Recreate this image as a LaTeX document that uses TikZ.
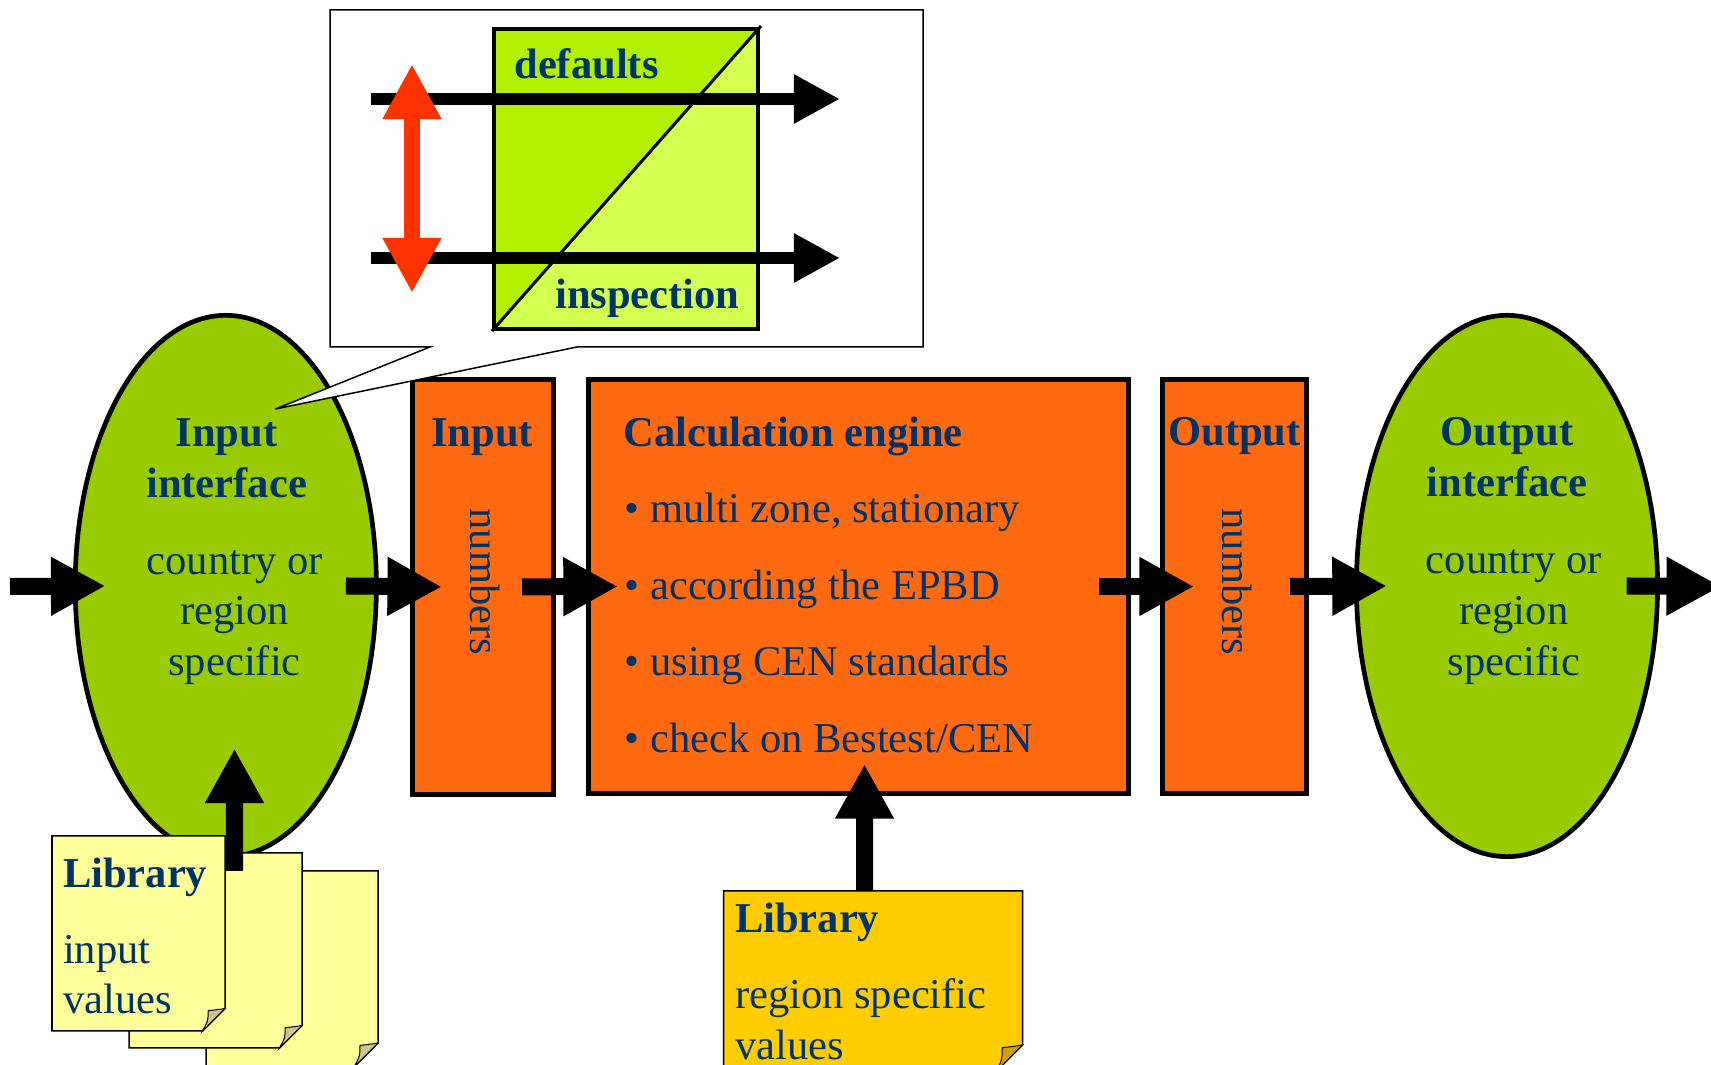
\documentclass[tikz,border=0pt]{standalone}
\usepackage{fontspec}
\setmainfont{Liberation Serif}
\usetikzlibrary{shapes.geometric,arrows.meta}
\definecolor{navy}{HTML}{003366}
\definecolor{ellgreen}{HTML}{99CC00}
\definecolor{boxorange}{HTML}{FF6A10}
\definecolor{darkgreen}{HTML}{B0F000}
\definecolor{lightgreen}{HTML}{D4FF50}
\definecolor{arrowred}{HTML}{FF3300}
\definecolor{pageyellow}{HTML}{FFFF99}
\definecolor{pagecurl}{HTML}{CCC488}
\definecolor{libgold}{HTML}{FFCC00}
\definecolor{goldcurl}{HTML}{D4A000}
\newcommand\txtfont{\fontsize{12.1pt}{14.5pt}\selectfont}
\newcommand\docpage[7]{%
  \pgfmathsetmacro\dpay{#4-#5}%
  \pgfmathsetmacro\dpbx{#3-#5}%
  \pgfmathsetmacro\dpcx{#3-0.3*#5}\pgfmathsetmacro\dpcy{#4-0.95*#5}%
  \pgfmathsetmacro\dppx{#3-0.75*#5}\pgfmathsetmacro\dppy{#4-0.9*#5}%
  \pgfmathsetmacro\dpdy{#4-0.45*#5}%
  \draw[page, fill=#6] (#1,#2) -- (#3,#2) -- (#3,\dpay) -- (\dpbx,#4) -- (#1,#4) -- cycle;
  \draw[curl, fill=#7] (#3,\dpay) .. controls (\dpcx,\dpcy) .. (\dppx,\dppy) .. controls (\dppx,\dpdy) .. (\dpbx,#4) -- cycle;
}
\begin{document}
\begin{tikzpicture}[x=0.01cm,y=-0.01cm,
  lbl/.style={inner sep=0pt, text=navy, font=\txtfont},
  blbl/.style={inner sep=0pt, text=navy, font=\txtfont\bfseries},
  iface/.style={ellipse, draw=black, line width=0.047cm, fill=ellgreen, inner sep=0pt, outer sep=0pt, minimum width=3.01cm, minimum height=5.41cm},
  obox/.style={rectangle, draw=black, line width=0.05cm, fill=boxorange, inner sep=0pt, outer sep=0pt},
  bigarrow/.style={line width=0.17cm, -{Triangle[length=0.545cm,width=0.55cm]}},
  smallarrow/.style={line width=0.12cm, -{Triangle[length=0.46cm,width=0.46cm]}},
  page/.style={draw=black, line width=0.015cm, line join=miter},
  curl/.style={draw=black, line width=0.01cm},
]
\useasboundingbox (0,0) rectangle (1711,1065);

% interfaces and boxes
\node[iface] (inif) at (225.8,586) {};
\node[iface] (outif) at (1507,586) {};
\node[obox, minimum width=1.41cm, minimum height=4.15cm] (inbox) at (482.6,586.9) {};
\node[obox, minimum width=5.40cm, minimum height=4.14cm] (calc) at (858.5,586.5) {};
\node[obox, minimum width=1.44cm, minimum height=4.14cm] (outbox) at (1234.5,586.5) {};

% callout
\draw[fill=white, draw=black, line width=0.015cm, line join=miter]
  (330,10) -- (923,10) -- (923,347) -- (577,347) -- (275.5,409) -- (430,347) -- (330,347) -- cycle;
\fill[darkgreen] (494,29) -- (758,29) -- (494,329) -- cycle;
\fill[lightgreen] (758,29) -- (758,329) -- (494,329) -- cycle;
\draw[line width=0.04cm] (494,29) rectangle (758,329);
\draw[line width=0.03cm] (492,331) -- (761,26);
\coordinate (da0) at (371,99);
\coordinate (da1) at (840,99);
\coordinate (ia0) at (371,258);
\coordinate (ia1) at (840,258);
\draw[smallarrow] (da0) -- (da1);
\draw[smallarrow] (ia0) -- (ia1);
\coordinate (r0) at (412,64);
\coordinate (r1) at (412,293);
\draw[arrowred, line width=0.16cm, {Triangle[length=0.55cm,width=0.55cm]}-{Triangle[length=0.55cm,width=0.55cm]}] (r0) -- (r1);
\node[blbl, anchor=base west] (defaults) at (513.7,78.3) {defaults};
\node[blbl, anchor=base west] (inspection) at (554.5,308.3) {inspection};

% library pages
\docpage{206}{871}{378}{1067}{24}{pageyellow}{pagecurl}
\docpage{129}{853}{302}{1048}{22.5}{pageyellow}{pagecurl}
\docpage{52}{836}{225}{1031}{22.5}{pageyellow}{pagecurl}
\docpage{723.5}{891}{1022.5}{1072}{27}{libgold}{goldcurl}
\node[blbl, anchor=base west] (lib1t) at (62.3,887.3) {Library};
\node[lbl, anchor=base west] (lib1a) at (62.3,963.3) {input};
\node[lbl, anchor=base west] (lib1b) at (62.3,1013.3) {values};
\node[blbl, anchor=base west] (lib2t) at (734.3,932.7) {Library};
\node[lbl, anchor=base west] (lib2a) at (734.3,1008.3) {region specific};
\node[lbl, anchor=base west] (lib2b) at (734.3,1060) {values};

% main flow arrows
\coordinate (start) at (10,586.5);
\coordinate (finish) at (1721,586.5);
\coordinate (lib1top) at (234.5,871);
\coordinate (lib2top) at (864.5,891);
\draw[bigarrow] (start) -- ([xshift=0.302cm]inif.west);
\draw[bigarrow] ([xshift=-0.304cm]inif.east) -- ([xshift=0.299cm]inbox.west);
\draw[bigarrow] ([xshift=-0.311cm]inbox.east) -- ([xshift=0.295cm]calc.west);
\draw[bigarrow] ([xshift=-0.295cm]calc.east) -- ([xshift=0.315cm]outbox.west);
\draw[bigarrow] ([xshift=-0.165cm]outbox.east) -- ([xshift=0.304cm]outif.west);
\draw[bigarrow] ([xshift=-0.31cm]outif.east) -- (finish);
\draw[bigarrow] (lib1top) -- ([xshift=0.087cm,yshift=1.08cm]inif.south);
\draw[bigarrow] (lib2top) -- ([xshift=0.06cm,yshift=0.295cm]calc.south);

% texts
\node[blbl, anchor=base] (inif1) at (226.6,446.5) {Input};
\node[blbl, anchor=base] (inif2) at (226.6,497.5) {interface};
\node[lbl, anchor=base] (inif3) at (234.6,574.5) {country or};
\node[lbl, anchor=base] (inif4) at (234.6,624.5) {region};
\node[lbl, anchor=base] (inif5) at (234.6,675.5) {specific};
\node[blbl, anchor=base] (inbox1) at (482,446.5) {Input};
\node[lbl, rotate=-90] (innum) at (485,582) {numbers};
\node[blbl, anchor=base west] (calc1) at (622.7,446.5) {Calculation engine};
\node[lbl, anchor=base west] (calc2) at (624,523) {• multi zone, stationary};
\node[lbl, anchor=base west] (calc3) at (624,599.5) {• according the EPBD};
\node[lbl, anchor=base west] (calc4) at (624,676) {• using CEN standards};
\node[lbl, anchor=base west] (calc5) at (624,752.7) {• check on Bestest/CEN};
\node[blbl, anchor=base] (outbox1) at (1234.5,446) {Output};
\node[lbl, rotate=-90] (outnum) at (1237,582) {numbers};
\node[blbl, anchor=base] (outif1) at (1507,446) {Output};
\node[blbl, anchor=base] (outif2) at (1507,496.5) {interface};
\node[lbl, anchor=base] (outif3) at (1514,573.5) {country or};
\node[lbl, anchor=base] (outif4) at (1514,624.5) {region};
\node[lbl, anchor=base] (outif5) at (1514,675.5) {specific};
\end{tikzpicture}
\end{document}
